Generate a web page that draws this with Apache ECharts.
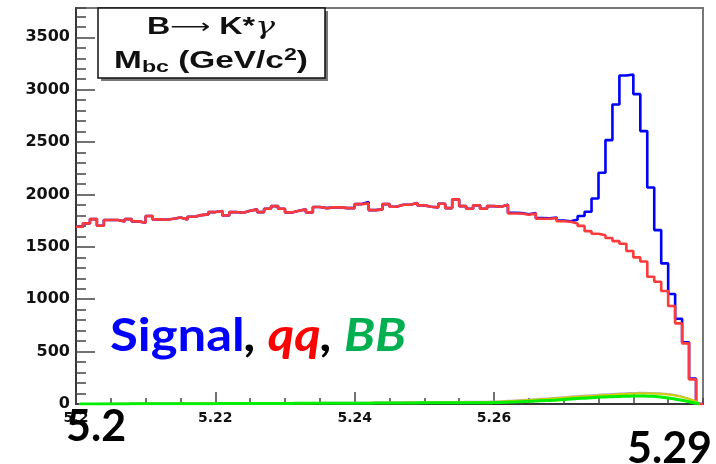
<!DOCTYPE html>
<html><head><meta charset="utf-8">
<script src="https://cdn.jsdelivr.net/npm/echarts@6/dist/echarts.min.js"></script>
<style>html,body{margin:0;padding:0;background:#fff}#c{width:716px;height:464px}</style>
</head><body><div id="c"></div>
<script>
// Histogram binning: 90 bins of 1 MeV from 5.200 to 5.290 GeV
const binStart = 5.2;
const binWidth = 0.001;
const xMax = 5.29;
const yMax = 3780;
const xMajorTicks = [5.2, 5.22, 5.24, 5.26, 5.28];
const xTickLabels = ['5.2', '5.22', '5.24', '5.26', ''];
const yMajorTicks = [0, 500, 1000, 1500, 2000, 2500, 3000, 3500];

// qq continuum (red)
const qq = [
  1692,1724,1765,1702,1756,1756,1743,1765,1743,1730,
  1794,1762,1759,1768,1781,1762,1787,1803,1810,1832,
  1842,1800,1832,1826,1845,1858,1832,1864,1889,1864,
  1829,1845,1858,1829,1880,1870,1877,1877,1870,1870,
  1908,1915,1851,1858,1908,1883,1902,1902,1918,1896,
  1883,1877,1911,1870,1953,1889,1864,1896,1864,1889,
  1883,1902,1819,1819,1807,1819,1768,1768,1775,1745,
  1740,1724,1700,1650,1625,1610,1585,1555,1530,1460,
  1400,1360,1215,1167,1078,935,770,579,235,0
];
// Signal + backgrounds total (blue)
const total = [
  1692,1724,1765,1702,1756,1756,1743,1765,1743,1730,
  1794,1762,1759,1768,1781,1762,1787,1803,1810,1832,
  1842,1800,1832,1826,1845,1858,1832,1864,1889,1864,
  1829,1845,1858,1829,1880,1870,1877,1877,1870,1870,
  1908,1927,1851,1858,1908,1883,1902,1902,1918,1896,
  1883,1877,1911,1870,1953,1889,1864,1896,1864,1889,
  1883,1902,1825,1822,1812,1822,1775,1772,1780,1752,
  1745,1760,1794,1835,1962,2207,2519,2859,3136,3146,
  2958,2605,2067,1660,1342,1050,814,589,242,0
];
// BB background components
const bbGrey = [
  0,1,1,1,2,2,2,2,3,3, 3,4,4,4,4,5,5,5,6,6,
  6,6,7,7,7,8,8,8,9,9, 9,9,10,10,10,11,11,11,12,12,
  12,13,13,14,14,15,15,16,16,17, 17,18,18,19,19,20,21,21,22,23,
  25,28,32,36,40,44,49,53,58,63, 68,73,78,82,86,90,94,98,101,104,
  106,107,106,103,98,90,78,60,38,5
];
const bbYellow = [
  0,0,1,1,1,1,2,2,2,2, 3,3,3,3,4,4,4,4,5,5,
  5,5,6,6,6,6,7,7,7,7, 8,8,8,8,9,9,9,9,10,10,
  10,10,11,11,12,12,13,13,14,14, 15,15,16,16,17,17,18,18,19,20,
  22,25,28,32,36,40,44,48,52,57, 62,66,71,75,79,83,87,91,95,98,
  100,101,100,98,94,86,74,58,36,4
];
const bbGreen = [
  0,0,0,1,1,1,1,1,2,2, 2,2,2,2,3,3,3,3,3,3,
  4,4,4,4,4,5,5,5,5,5, 5,6,6,6,6,6,7,7,7,7,
  8,8,8,9,9,9,10,10,10,11, 11,11,12,12,12,12,13,13,13,13,
  14,16,18,21,24,27,30,33,36,40, 46,50,54,58,62,66,69,71,73,75,
  76,76,74,70,62,52,40,28,14,2
];

function hist(vals) {
  const d = vals.map((v, i) => [+(binStart + i * binWidth).toFixed(4), v]);
  d.push([xMax, vals[vals.length - 1]]);
  return d;
}
function curve(vals) {
  return vals.map((v, i) => [+(binStart + (i + 0.5) * binWidth).toFixed(4), v]);
}

const chart = echarts.init(document.getElementById('c'), null, {renderer: 'canvas'});
const tickColor = '#444';
const labelFont = {fontFamily: 'DejaVu Sans', fontWeight: 'bold', color: '#111'};
const boxFont = {fontFamily: 'Liberation Sans', fontWeight: 'bold', fill: '#111'};

chart.setOption({
  animation: false,
  backgroundColor: '#fff',
  grid: {left: 76, right: 13, top: 8, bottom: 60, show: true, borderColor: '#777', borderWidth: 2, backgroundColor: 'transparent'},
  xAxis: [{
    type: 'value', min: binStart, max: xMax, position: 'bottom',
    axisLine: {show: true, onZero: false, lineStyle: {color: '#222', width: 1.5}},
    axisTick: {show: true, inside: true, length: 12, customValues: xMajorTicks, lineStyle: {color: tickColor, width: 1.5}},
    axisLabel: {show: true, customValues: xMajorTicks, margin: 7, fontSize: 14, ...labelFont,
      formatter: v => { const i = xMajorTicks.findIndex(t => Math.abs(t - v) < 1e-6); return i >= 0 ? xTickLabels[i] : ''; }},
    splitLine: {show: false}
  }, {
    type: 'value', min: binStart, max: xMax, interval: 0.005, position: 'bottom', gridIndex: 0,
    axisLine: {show: false}, axisLabel: {show: false}, splitLine: {show: false},
    axisTick: {show: true, inside: true, length: 6, lineStyle: {color: tickColor, width: 1.5}}
  }],
  yAxis: [{
    type: 'value', min: 0, max: yMax, position: 'left',
    axisLine: {show: true, onZero: false, lineStyle: {color: '#222', width: 1.5}},
    axisTick: {show: true, inside: true, length: 19, customValues: yMajorTicks, lineStyle: {color: tickColor, width: 1.5}},
    axisLabel: {show: true, customValues: yMajorTicks, margin: 6, fontSize: 16, ...labelFont, formatter: v => String(v)},
    splitLine: {show: false}
  }, {
    type: 'value', min: 0, max: yMax, interval: 100, position: 'left', gridIndex: 0,
    axisLine: {show: false}, axisLabel: {show: false}, splitLine: {show: false},
    axisTick: {show: true, inside: true, length: 10, lineStyle: {color: tickColor, width: 1.5}}
  }],
  series: [
    {type: 'line', name: 'total', data: hist(total), step: 'end', showSymbol: false, xAxisIndex: 0, yAxisIndex: 0,
      lineStyle: {color: '#0000ff', width: 2.6}, z: 3},
    {type: 'line', name: 'qq', data: hist(qq), step: 'end', showSymbol: false, xAxisIndex: 0, yAxisIndex: 0,
      lineStyle: {color: '#ff3a3a', width: 2.6}, z: 4},
    {type: 'line', name: 'bbGrey', data: curve(bbGrey), smooth: true, showSymbol: false,
      lineStyle: {color: '#b8a8c8', width: 2}, z: 5},
    {type: 'line', name: 'bbYellow', data: curve(bbYellow), smooth: true, showSymbol: false,
      lineStyle: {color: '#d0d000', width: 2}, z: 6},
    {type: 'line', name: 'bbGreen', data: curve(bbGreen), smooth: true, showSymbol: false,
      lineStyle: {color: '#00ee00', width: 3}, z: 7}
  ],
  graphic: [
    {type: 'rect', shape: {x: 101, y: 11, width: 227, height: 70}, style: {fill: '#777'}, z: 100},
    {type: 'rect', shape: {x: 98, y: 8, width: 227, height: 70}, style: {fill: '#fff', stroke: '#111', lineWidth: 1.5}, z: 101},
    {type: 'text', x: 211, y: 28, scaleX: 1.4, z: 102, style: {
      text: '{a|B}{ar|\u27f6}{a| K*}{g|\u03b3}',
      align: 'center', verticalAlign: 'middle',
      rich: {
        a: {...boxFont, fontSize: 23, lineHeight: 28},
        ar: {fontFamily: 'DejaVu Sans', fontWeight: 'normal', fontSize: 20, lineHeight: 28, fill: '#111'},
        g: {fontFamily: 'DejaVu Serif', fontStyle: 'italic', fontWeight: 'normal', fontSize: 24, lineHeight: 28, fill: '#111'}
      }}},
    {type: 'text', x: 211, y: 62, scaleX: 1.45, z: 102, style: {
      text: '{a|M}{sub|bc}{a| (GeV/c}{sup|2}{a|)}',
      align: 'center', verticalAlign: 'middle',
      rich: {
        a: {...boxFont, fontSize: 23, lineHeight: 28},
        sub: {...boxFont, fontSize: 16, lineHeight: 10, verticalAlign: 'bottom'},
        sup: {...boxFont, fontSize: 16, lineHeight: 22, verticalAlign: 'top'}
      }}},
    {type: 'text', x: 110, y: 336, scaleX: 1.13, z: 102, style: {
      text: '{s|Signal}{k|, }{q|qq}{k|, }{b|BB}',
      verticalAlign: 'middle',
      rich: {
        s: {fontFamily: 'Lato', fontWeight: 'bold', fontSize: 45, fill: '#0000ff'},
        k: {fontFamily: 'Lato', fontWeight: 'bold', fontStyle: 'italic', fontSize: 45, fill: '#000'},
        q: {fontFamily: 'Lato', fontWeight: 'bold', fontStyle: 'italic', fontSize: 45, fill: '#ff0000'},
        b: {fontFamily: 'Lato', fontWeight: 'bold', fontStyle: 'italic', fontSize: 45, fill: '#00b050'}
      }}},
    {type: 'text', x: 66, y: 427, z: 102, style: {text: '5.2', fontFamily: 'Lato', fontWeight: 'bold', fontSize: 43, fill: '#000', verticalAlign: 'middle'}},
    {type: 'text', x: 627, y: 449, z: 102, style: {text: '5.29', fontFamily: 'Lato', fontWeight: 'bold', fontSize: 43, fill: '#000', verticalAlign: 'middle'}}
  ]
});
</script>
</body></html>
